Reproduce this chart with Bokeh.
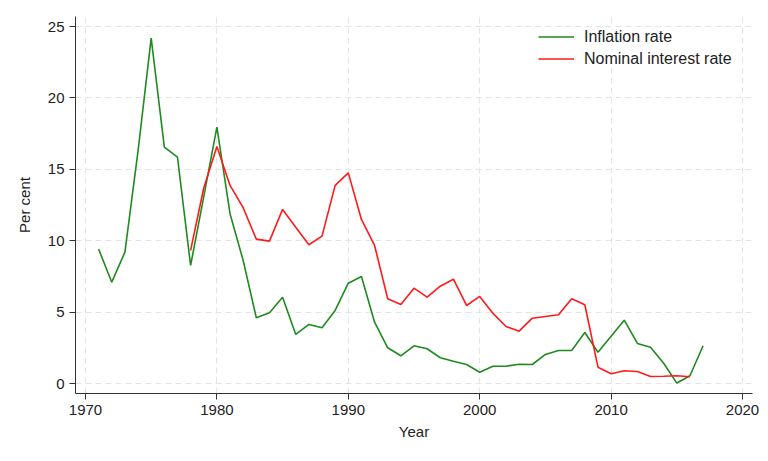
from bokeh.plotting import figure
from bokeh.models import Range1d, Legend, LegendItem, FixedTicker
from bokeh.embed import file_html
from bokeh.resources import INLINE

years_inflation = list(range(1971, 2018))
inflation = [9.42, 7.11, 9.21, 16.3, 24.19, 16.56, 15.86, 8.28, 13.1, 17.96,
             11.9, 8.63, 4.62, 4.97, 6.06, 3.45, 4.15, 3.92, 5.13, 7.04,
             7.51, 4.31, 2.52, 1.96, 2.66, 2.45, 1.82, 1.58, 1.35, 0.81,
             1.23, 1.23, 1.37, 1.35, 2.05, 2.33, 2.33, 3.59, 2.21, 3.33,
             4.45, 2.82, 2.56, 1.44, 0.05, 0.56, 2.66]

years_interest = list(range(1978, 2017))
interest = [9.33, 13.7, 16.6, 13.88, 12.32, 10.12, 9.98, 12.2, 10.96, 9.73,
            10.33, 13.88, 14.76, 11.5, 9.68, 5.95, 5.55, 6.69, 6.06, 6.83,
            7.32, 5.48, 6.11, 4.94, 4.01, 3.68, 4.59, 4.71, 4.83, 5.95,
            5.53, 1.16, 0.7, 0.91, 0.86, 0.51, 0.53, 0.56, 0.49]

x_ticks = [1970, 1980, 1990, 2000, 2010, 2020]
y_ticks = [0, 5, 10, 15, 20, 25]
series_names = ["Inflation rate", "Nominal interest rate"]

FONT = "Liberation Sans"

p = figure(width=760, height=453, output_backend="svg", toolbar_location=None,
           x_range=Range1d(1969.24, 2020.76), y_range=Range1d(-0.68, 25.7),
           min_border_left=75, min_border_right=8, min_border_top=16, min_border_bottom=60)
p.outline_line_color = None
p.background_fill_color = "white"

r1 = p.line(years_inflation, inflation, line_color="#1f8a1f", line_width=1.6)
r2 = p.line(years_interest, interest, line_color="#ff1a1a", line_width=1.6)

for ax in (p.xaxis[0], p.yaxis[0]):
    ax.axis_line_color = "#333333"
    ax.axis_line_width = 1
    ax.major_tick_line_color = "#333333"
    ax.major_tick_out = 6
    ax.major_tick_in = 0
    ax.minor_tick_out = 0
    ax.minor_tick_in = 0
    ax.major_label_text_font = FONT
    ax.major_label_text_font_size = "15px"
    ax.major_label_text_color = "#222222"
    ax.axis_label_text_font = FONT
    ax.axis_label_text_font_size = "15px"
    ax.axis_label_text_font_style = "normal"
    ax.axis_label_text_color = "#222222"

p.xaxis[0].ticker = FixedTicker(ticks=x_ticks)
p.yaxis[0].ticker = FixedTicker(ticks=y_ticks)
p.xaxis[0].axis_label = "Year"
p.yaxis[0].axis_label = "Per cent"
p.xaxis[0].major_label_standoff = 5
p.yaxis[0].major_label_standoff = 5
p.xaxis[0].axis_label_standoff = 5
p.yaxis[0].axis_label_standoff = 12

for g in (p.xgrid[0], p.ygrid[0]):
    g.grid_line_color = "#e4e4e4"
    g.grid_line_dash = "6 4"
    g.grid_line_width = 1
p.xgrid[0].ticker = FixedTicker(ticks=x_ticks)
p.ygrid[0].ticker = FixedTicker(ticks=y_ticks)

legend = Legend(items=[LegendItem(label=series_names[0], renderers=[r1]),
                       LegendItem(label=series_names[1], renderers=[r2])],
                location=(463, 325))
legend.border_line_color = None
legend.background_fill_color = "white"
legend.background_fill_alpha = 1.0
legend.label_text_font = FONT
legend.label_text_font_size = "16px"
legend.label_text_color = "#222222"
legend.glyph_width = 36
legend.glyph_height = 19
legend.label_height = 19
legend.spacing = 3
legend.padding = 8
legend.margin = 0
legend.label_standoff = 10
p.add_layout(legend, "center")

open("out.html", "w").write(file_html(p, INLINE))
